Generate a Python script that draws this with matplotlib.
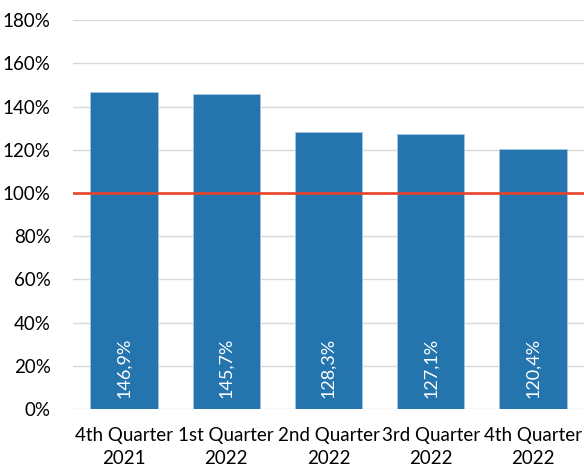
import matplotlib

matplotlib.use("Agg")
import matplotlib.pyplot as plt
from matplotlib.ticker import FuncFormatter

plt.rcParams["font.family"] = ["Lato", "DejaVu Sans"]

quarters = ["4th Quarter\n2021", "1st Quarter\n2022", "2nd Quarter\n2022",
            "3rd Quarter\n2022", "4th Quarter\n2022"]
coverage = [146.9, 145.7, 128.3, 127.1, 120.4]
labels = ["146,9%", "145,7%", "128,3%", "127,1%", "120,4%"]
threshold = 100

fig = plt.figure(figsize=(5.84, 4.68), dpi=100)
ax = fig.add_axes([0.125, 0.126, 0.875, 0.831])

x = range(len(quarters))
ax.bar(x, coverage, width=0.66, color="#2475ae", edgecolor="#a9c8e0",
       linewidth=0.6, zorder=2)
ax.axhline(threshold, color="#e8432a", linewidth=1.9, zorder=3)

for xi, lab in zip(x, labels):
    ax.text(xi, 5, lab, rotation=90, ha="center", va="bottom",
            color="white", fontsize=13, zorder=4)

ax.set_xlim(-0.5, len(quarters) - 0.5)
ax.set_ylim(0, 180)
ax.set_yticks(range(0, 181, 20))
ax.yaxis.set_major_formatter(FuncFormatter(lambda v, _: f"{v:.0f}%"))
ax.set_xticks(list(x))
ax.set_xticklabels(quarters, fontsize=13.5, linespacing=1.45)
ax.tick_params(axis="both", length=0, colors="black")
ax.tick_params(axis="y", labelsize=13.5, pad=16)
ax.tick_params(axis="x", pad=13)
ax.grid(axis="y", color="#d9d9d9", linewidth=1, zorder=0)
for side in ax.spines.values():
    side.set_visible(False)

fig.savefig("out.png", dpi=100)
